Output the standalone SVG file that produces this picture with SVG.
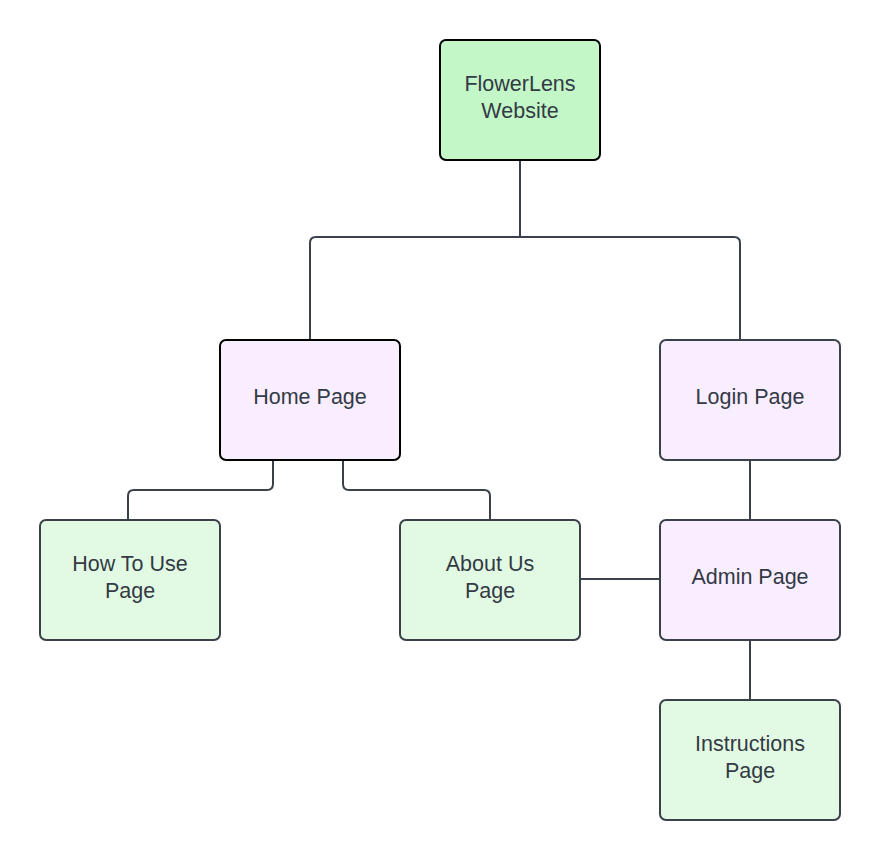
<svg xmlns="http://www.w3.org/2000/svg" width="880" height="860" viewBox="0 0 880 860">
<style>
.n{stroke:#3a414a;stroke-width:2}
.k{stroke:#000;stroke-width:2}
.g{fill:#e2fae3}
.p{fill:#f9eeff}
.t{fill:#c3f7c8}
text{font-family:"Liberation Sans",Arial,sans-serif;font-size:21.5px;fill:#333a45;text-anchor:middle}
.c{fill:none;stroke:#3a414a;stroke-width:2}
</style>
<rect width="880" height="860" fill="#fff"/>
<g id="connectors">
<path class="c" d="M520 160V237M310 340V243Q310 237 316 237H734Q740 237 740 243V340"/>
<path class="c" d="M273 460V484Q273 490 267 490H134Q128 490 128 496V520"/>
<path class="c" d="M343 460V484Q343 490 349 490H484Q490 490 490 496V520"/>
<path class="c" d="M750 460V520"/>
<path class="c" d="M580 579H660"/>
<path class="c" d="M750 640V700"/>
</g>
<g id="flowerlens"><rect class="k t" x="440" y="40" width="160" height="120" rx="6"/><text x="520" y="91">FlowerLens</text><text x="520" y="118">Website</text></g>
<g id="home"><rect class="k p" x="220" y="340" width="180" height="120" rx="6"/><text x="310" y="404">Home Page</text></g>
<g id="login"><rect class="n p" x="660" y="340" width="180" height="120" rx="6"/><text x="750" y="404">Login Page</text></g>
<g id="howto"><rect class="n g" x="40" y="520" width="180" height="120" rx="6"/><text x="130" y="571">How To Use</text><text x="130" y="598">Page</text></g>
<g id="about"><rect class="n g" x="400" y="520" width="180" height="120" rx="6"/><text x="490" y="571">About Us</text><text x="490" y="598">Page</text></g>
<g id="admin"><rect class="n p" x="660" y="520" width="180" height="120" rx="6"/><text x="750" y="584">Admin Page</text></g>
<g id="instructions"><rect class="n g" x="660" y="700" width="180" height="120" rx="6"/><text x="750" y="751">Instructions</text><text x="750" y="778">Page</text></g>
</svg>
